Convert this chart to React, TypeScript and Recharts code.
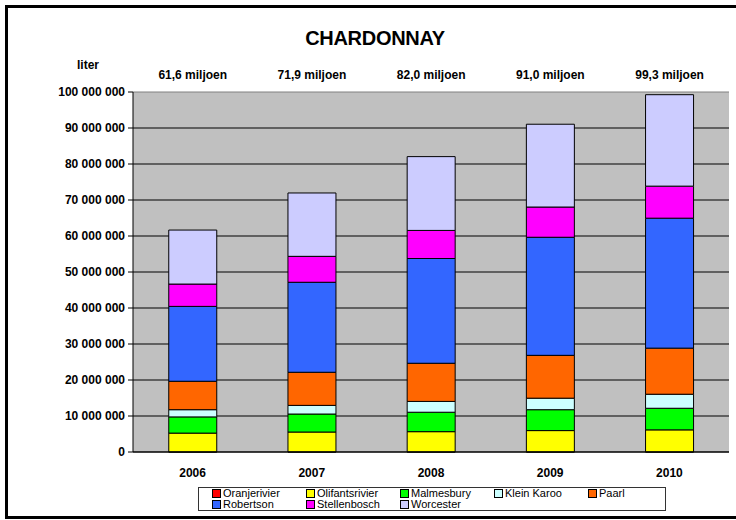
import { Bar, BarChart, CartesianGrid, LabelList, ReferenceLine, XAxis, YAxis } from "recharts";

const years = ["2006", "2007", "2008", "2009", "2010"];
const totalLabels = ["61,6 miljoen", "71,9 miljoen", "82,0 miljoen", "91,0 miljoen", "99,3 miljoen"];

// liters per region (millions)
const oranjerivier = [0.05, 0.05, 0.05, 0.05, 0.05];
const olifantsrivier = [5.2, 5.5, 5.6, 5.9, 6.1];
const malmesbury = [4.5, 5.0, 5.4, 5.8, 6.0];
const kleinKaroo = [2.0, 2.4, 3.0, 3.2, 3.9];
const paarl = [7.9, 9.2, 10.6, 11.9, 12.8];
const robertson = [20.8, 25.0, 29.1, 32.8, 36.1];
const stellenbosch = [6.2, 7.2, 7.8, 8.4, 8.9];
const worcester = [15.0, 17.6, 20.5, 23.0, 25.4];

const yTicks = [0, 10, 20, 30, 40, 50, 60, 70, 80, 90, 100].map((v) => v * 1000000);
const edgeTicks = [0, 1, 2, 3, 4, 5];

const series = [
  { key: "Oranjerivier", values: oranjerivier, color: "#FF0000" },
  { key: "Olifantsrivier", values: olifantsrivier, color: "#FFFF00" },
  { key: "Malmesbury", values: malmesbury, color: "#00FF00" },
  { key: "Klein Karoo", values: kleinKaroo, color: "#CCFFFF" },
  { key: "Paarl", values: paarl, color: "#FF6600" },
  { key: "Robertson", values: robertson, color: "#3366FF" },
  { key: "Stellenbosch", values: stellenbosch, color: "#FF00FF" },
  { key: "Worcester", values: worcester, color: "#CCCCFF" },
];

const data = years.map((year, i) => {
  const row: Record<string, string | number> = { year, total: totalLabels[i] };
  series.forEach((s) => {
    row[s.key] = Math.round(s.values[i] * 1000000);
  });
  return row;
});

const font = "'Liberation Sans', Arial, sans-serif";

const fmt = (v: number) => String(v).replace(/\B(?=(\d{3})+(?!\d))/g, " ");

function TotalLabel(props: any) {
  const { x, width, index } = props;
  return (
    <text
      x={Number(x) + Number(width) / 2}
      y={79}
      textAnchor="middle"
      fontSize={12}
      fontWeight="bold"
      fill="#000"
      fontFamily={font}
    >
      {totalLabels[index]}
    </text>
  );
}

// top border of the plot is grey, the other grid lines are black
function GridLine(props: any) {
  const { x1, x2, y1, y2, y } = props;
  const isTop = Math.abs(Number(y1) - Number(y)) < 0.5;
  return <line x1={x1} x2={x2} y1={y1} y2={y2} stroke={isTop ? "#808080" : "#000"} strokeWidth={1} />;
}

export default function App() {
  return (
    <div
      style={{
        position: "absolute",
        left: 0,
        top: 0,
        width: 736,
        height: 520,
        background: "#fff",
        fontFamily: font,
        overflow: "hidden",
      }}
    >
      <div
        style={{
          position: "absolute",
          left: 5,
          top: 5,
          width: 760,
          height: 508,
          borderLeft: "3px solid #000",
          borderTop: "3px solid #000",
          borderBottom: "3px solid #000",
        }}
      />
      <div
        style={{
          position: "absolute",
          left: 0,
          width: 750,
          top: 27,
          textAlign: "center",
          fontSize: 20,
          fontWeight: "bold",
          letterSpacing: -0.3,
        }}
      >
        CHARDONNAY
      </div>
      <div style={{ position: "absolute", left: 77, top: 58, fontSize: 12, fontWeight: "bold" }}>liter</div>
      <BarChart
        width={736}
        height={520}
        data={data}
        margin={{ top: 92, right: 7, left: 8, bottom: 38 }}
        barCategoryGap="30%"
        style={{ position: "absolute", left: 0, top: 0 }}
      >
        <CartesianGrid vertical={false} fill="#C0C0C0" horizontal={GridLine} />
        <XAxis
          xAxisId="edge"
          type="number"
          domain={[0, 5]}
          ticks={edgeTicks}
          tick={false}
          axisLine={false}
          tickLine={{ stroke: "#000" }}
          tickSize={4}
          height={0}
        />
        <XAxis
          dataKey="year"
          tickLine={false}
          axisLine={{ stroke: "#000" }}
          height={30}
          tick={{ fontSize: 12, fontWeight: "bold", fill: "#000", fontFamily: font }}
          tickMargin={10}
        />
        <YAxis
          width={125}
          domain={[0, 100000000]}
          ticks={yTicks}
          interval={0}
          tickFormatter={fmt}
          axisLine={{ stroke: "#000" }}
          tickLine={{ stroke: "#000" }}
          tickSize={5}
          tickMargin={3}
          tick={{ fontSize: 12, fontWeight: "bold", fill: "#000", fontFamily: font }}
        />
        <ReferenceLine xAxisId="edge" x={5} stroke="#808080" />
        {series.map((s, i) => (
          <Bar
            key={s.key}
            dataKey={s.key}
            stackId="a"
            fill={s.color}
            stroke="#000"
            strokeWidth={1}
            isAnimationActive={false}
          >
            {i === series.length - 1 && <LabelList dataKey="total" content={TotalLabel} />}
          </Bar>
        ))}
      </BarChart>
      <div
        style={{
          position: "absolute",
          left: 198,
          top: 487,
          width: 468,
          height: 24,
          border: "1px solid #333",
          display: "grid",
          gridTemplateColumns: "repeat(5, 94px)",
          paddingLeft: 13,
          boxSizing: "border-box",
          alignContent: "center",
          fontSize: 11,
          lineHeight: "11px",
        }}
      >
        {series.map((s) => (
          <div key={s.key} style={{ display: "flex", alignItems: "center", whiteSpace: "nowrap" }}>
            <span
              style={{
                display: "inline-block",
                width: 7,
                height: 7,
                background: s.color,
                border: "1px solid #000",
                marginRight: 2,
              }}
            />
            {s.key}
          </div>
        ))}
      </div>
    </div>
  );
}
